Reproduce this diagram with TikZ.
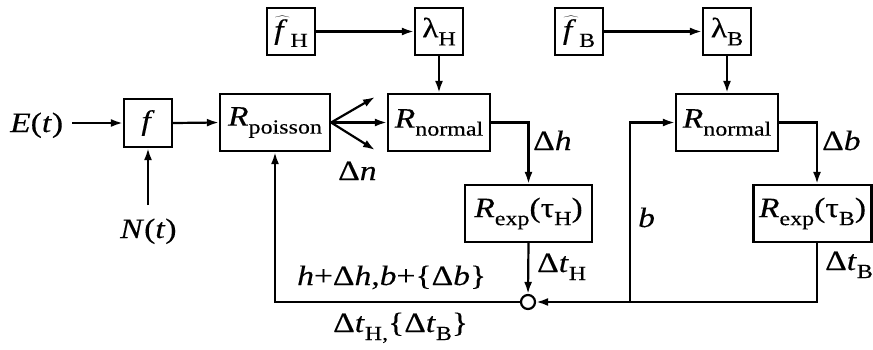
\documentclass[tikz,border=0pt]{standalone}
\usepackage{fontspec}
\setmainfont{Liberation Serif}[FakeStretch=1.2,FakeBold=0.3]
\usetikzlibrary{arrows.meta,calc}
\newcommand\vv[1]{\textit{#1}}
\newcommand\sbx[1]{\raisebox{-8pt}{\fontsize{20}{21}\selectfont #1}}
\newcommand\fhat{\ensuremath{\widehat{\hbox{\textit{f}\kern3pt}}}}
\tikzset{
  blk/.style={draw,line width=2.2pt,inner sep=0pt,align=center},
  arr/.style={line width=2.2pt,-{Latex[length=12pt,width=8pt]}},
  lbl/.style={inner sep=0pt,anchor=base west},
}
\begin{document}
\begin{tikzpicture}[x=1pt,y=-1pt,font=\fontsize{28}{30}\selectfont]
\useasboundingbox (0,0) rectangle (873,349);
% blocks
\node[blk,minimum width=48pt,minimum height=48pt] (f) at (148,123) {\vv{f}};
\node[blk,minimum width=110pt,minimum height=57pt] (rp) at (275,122.5) {\vv{R}\sbx{poisson}};
\node[blk,minimum width=48pt,minimum height=47pt] (fh) at (291,31.5) {\fhat\sbx{H}};
\node[blk,minimum width=48pt,minimum height=47pt] (lh) at (439,31.5) {λ\sbx{H}};
\node[blk,minimum width=102pt,minimum height=57pt] (rnh) at (439,122.5) {\vv{R}\sbx{normal}};
\node[blk,minimum width=127pt,minimum height=57pt] (reh) at (528.5,213.5) {\vv{R}\sbx{exp}(τ\sbx{H})};
\node[blk,minimum width=48pt,minimum height=47pt] (fb) at (579,31.5) {\fhat\sbx{B}};
\node[blk,minimum width=48pt,minimum height=47pt] (lb) at (727,31.5) {λ\sbx{B}};
\node[blk,minimum width=102pt,minimum height=57pt] (rnb) at (727,122.5) {\vv{R}\sbx{normal}};
\node[blk,minimum width=118pt,minimum height=57pt] (reb) at (812.5,213.5) {\vv{R}\sbx{exp}(τ\sbx{B})};
\node[draw,circle,line width=2.2pt,minimum size=14pt,inner sep=0pt] (c) at (528,302) {};
% texts
\node[lbl] (et) at (10,132) {\vv{E}(\vv{t})};
\node[lbl] (nt) at (120,238) {\vv{N}(\vv{t})};
\node[lbl] (dn) at (338,180) {Δ\vv{n}};
\node[lbl] (dh) at (533,150) {Δ\vv{h}};
\node[lbl] (db) at (822,150) {Δ\vv{b}};
\node[lbl] (bb) at (638,227) {\vv{b}};
\node[lbl] (dth) at (537,272) {Δ\vv{t}\sbx{H}};
\node[lbl] (dtb) at (825,270) {Δ\vv{t}\sbx{B}};
\node[lbl] (sum) at (297,285) {\vv{h}+Δ\vv{h},\vv{b}+\{Δ\vv{b}\}};
\node[lbl] (dts) at (333,332) {Δ\vv{t}\sbx{H,}\{Δ\vv{t}\sbx{B}\}};
% coordinates
\coordinate (ntop) at (148,205);
\coordinate (up) at (375,97);
\coordinate (dw) at (375,150);
\coordinate (j) at (630,302);
% connectors
\draw[arr] (72,0 |- f.west) -- (f.west);
\draw[arr] (ntop) -- (f.south);
\draw[arr] (f.east) -- (rp.west);
\draw[arr] (rp.east) -- (rnh.west);
\draw[arr] (rp.east) -- (up);
\draw[arr] (rp.east) -- (dw);
\draw[arr] (fh.east) -- (lh.west);
\draw[arr] (lh.south) -- (rnh.north);
\draw[arr] (fb.east) -- (lb.west);
\draw[arr] (lb.south) -- (rnb.north);
\draw[arr] (rnh.east) -| (reh.north);
\draw[arr] (rnb.east) -| ([xshift=4.5pt]reb.north);
\draw[arr] (reh.south) -- (c.north);
\draw[arr] ([xshift=4.5pt]reb.south) |- (c.east);
\draw[arr] (j) |- (rnb.west);
\draw[arr] (c.west) -| (rp.south);
\end{tikzpicture}
\end{document}
